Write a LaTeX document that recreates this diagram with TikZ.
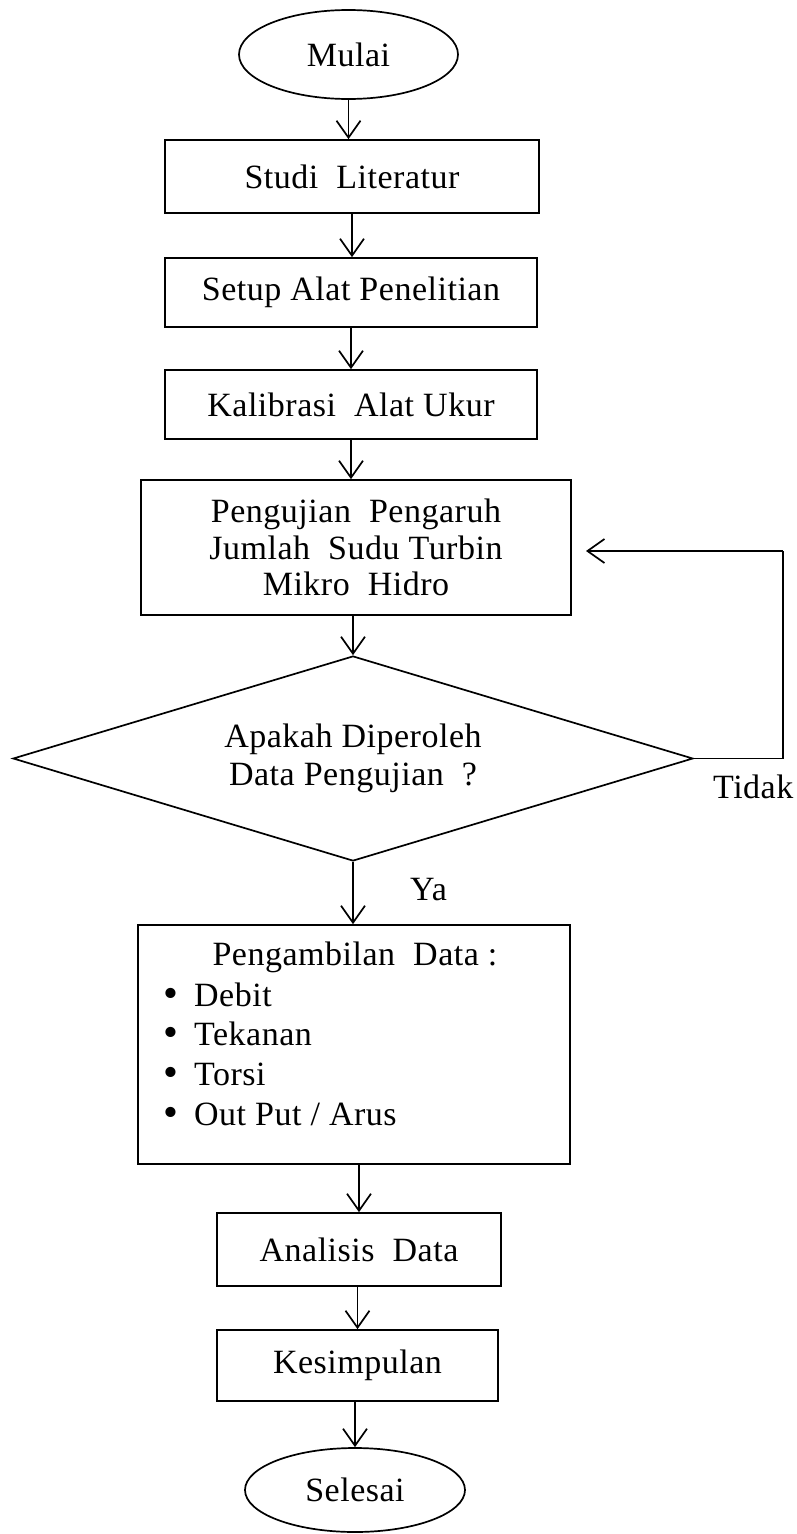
\documentclass[tikz,border=0pt]{standalone}
\usepackage{fontspec}
\usepackage{graphicx}
\setmainfont{Liberation Serif}[LetterSpace=1.5]
\usetikzlibrary{shapes.geometric,arrows.meta}
\newcommand{\bulletmark}{\llap{\smash{\raisebox{-1pt}{\scalebox{1.25}{•}}}\hspace{16pt}}}
\begin{document}
\begin{tikzpicture}[x=1pt,y=-1pt,
  every node/.style={font=\fontsize{34}{36.5}\selectfont},
  box/.style={draw, line width=1.7pt, rectangle, inner sep=0pt, align=center},
  term/.style={draw, line width=1.7pt, ellipse, inner sep=0pt},
  decision/.style={draw, line width=1.7pt, diamond, shape aspect=3.3, inner sep=0pt, align=center},
  arr/.style={line width=1.7pt, -{Straight Barb[length=17pt,width=24pt,line width=1.7pt]}},
  link/.style={line width=1.7pt},
  lbl/.style={inner sep=0pt, anchor=base west},
]
\fill[white] (0,0) rectangle (796,1534);
\useasboundingbox (0,0) rectangle (796,1534);

\node[term, minimum width=219pt, minimum height=89pt] (mulai) at (348.5,54.5) {Mulai};
\node[box, minimum width=374pt, minimum height=73pt] (studi) at (352,176.5) {Studi\ \ Literatur};
\node[box, minimum width=372pt, minimum height=69pt] (setup) at (351,292.5) {Setup Alat Penelitian};
\node[box, minimum width=372pt, minimum height=69pt] (kalib) at (351,404.5) {Kalibrasi\ \ Alat Ukur};
\node[box, minimum width=430pt, minimum height=135pt] (peng) at (356,547.5)
  {Pengujian\ \ Pengaruh\\ Jumlah\ \ Sudu Turbin\\ Mikro\ \ Hidro};
\node[decision, minimum width=680pt, minimum height=205pt,
  font=\fontsize{34}{38}\selectfont] (dia) at (353,758.5)
  {Apakah Diperoleh\\ Data Pengujian\ \ ?};
\node[box, minimum width=432pt, minimum height=239pt] (pamb) at (354,1044.5) {};
\node[inner sep=0pt, anchor=base] (pambt) at (355,965) {Pengambilan\ \ Data :};
\node[lbl] (i1) at (194,1006) {\bulletmark Debit};
\node[lbl] (i2) at (194,1045) {\bulletmark Tekanan};
\node[lbl] (i3) at (194,1085) {\bulletmark Torsi};
\node[lbl] (i4) at (194,1125) {\bulletmark Out Put / Arus};
\node[box, minimum width=284pt, minimum height=73pt] (anal) at (359,1249.5) {Analisis\ \ Data};
\node[box, minimum width=281pt, minimum height=71pt] (kes) at (357.5,1365.5) {Kesimpulan};
\node[term, minimum width=220pt, minimum height=84pt] (sel) at (355,1490) {Selesai};

\node[lbl] (ya) at (410,900) {Ya};
\node[lbl] (tidak) at (713,798) {Tidak};

\coordinate (lp1) at (783,758.5);
\coordinate (lp2) at (783,551);
\coordinate (lpend) at (586,551);

\draw[arr] (mulai) -- (mulai |- studi.north);
\draw[arr] (studi) -- (studi |- setup.north);
\draw[arr] (setup) -- (setup |- kalib.north);
\draw[arr] (kalib) -- (kalib |- peng.north);
\draw[arr] (dia.north |- peng.south) -- (dia.north);
\draw[arr] (dia.south) -- (dia.south |- pamb.north);
\draw[arr] (anal.north |- pamb.south) -- (anal.north);
\draw[arr] (kes.north |- anal.south) -- (kes.north);
\draw[arr] (sel.north |- kes.south) -- (sel.north);
\draw[link] (dia.east) -- (lp1) -- (lp2);
\draw[arr] (lp2) -- (lpend);
\end{tikzpicture}
\end{document}
